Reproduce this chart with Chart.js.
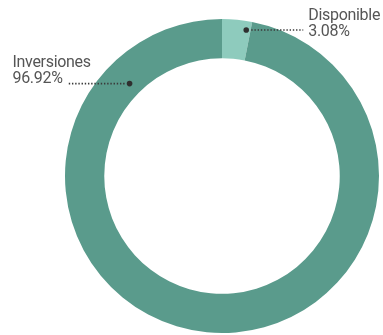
<!DOCTYPE html>
<html>
<head>
<meta charset="utf-8">
<script src="https://cdn.jsdelivr.net/npm/chart.js@4/dist/chart.umd.min.js"></script>
<style>
  html, body { margin: 0; padding: 0; background: #fff; }
  #wrap { width: 383px; height: 335px; }
</style>
</head>
<body>
<div id="wrap"><canvas id="pie"></canvas></div>
<script>
// データ
const labels = ['Disponible', 'Inversiones'];
const values = [3.08, 96.92];
const valueLabels = ['3.08%', '96.92%'];
const colors = ['#8ecbbd', '#5a9b8c'];

// ラベル配置（線の位置・向き）
const labelStyle = [
    { t: 0.85, r: 0.77, side: 1, len: 57, dy: 6 },
    { t: 0.871, r: 0.33, side: -1, len: 62, dy: -1 }
];

// 吹き出しラベル（点線 + 点 + テキスト）
const calloutPlugin = {
    id: 'callout',
    afterDatasetsDraw(chart) {
        const ctx = chart.ctx;
        const meta = chart.getDatasetMeta(0);
        meta.data.forEach((arc, i) => {
            const s = labelStyle[i];
            const p = arc.getProps(['x', 'y', 'startAngle', 'endAngle', 'innerRadius', 'outerRadius'], true);
            const a = p.startAngle + (p.endAngle - p.startAngle) * s.t;
            const r = p.innerRadius + (p.outerRadius - p.innerRadius) * s.r;
            const dx = p.x + Math.cos(a) * r;
            const dy = p.y + Math.sin(a) * r;
            const ex = dx + s.side * s.len;

            ctx.save();
            // 点線
            ctx.strokeStyle = '#3a3a3a';
            ctx.lineWidth = 1.6;
            ctx.setLineDash([1.4, 1.8]);
            ctx.beginPath();
            ctx.moveTo(dx + s.side * 5, dy);
            ctx.lineTo(ex, dy);
            ctx.stroke();
            ctx.setLineDash([]);
            // 点
            ctx.fillStyle = '#2f2f2f';
            ctx.beginPath();
            ctx.arc(dx, dy, 2.8, 0, Math.PI * 2);
            ctx.fill();
            // テキスト
            ctx.font = '16px Roboto';
            ctx.letterSpacing = '-0.3px';
            ctx.fillStyle = '#555555';
            ctx.textBaseline = 'alphabetic';
            ctx.textAlign = 'left';
            let tx;
            if (s.side > 0) {
                tx = ex + 5;
            } else {
                tx = ex - 5 - ctx.measureText(valueLabels[i]).width;
            }
            ctx.fillText(labels[i], tx, dy + s.dy - 16);
            ctx.fillText(valueLabels[i], tx, dy + s.dy);
            ctx.restore();
        });
    }
};

new Chart(document.getElementById('pie'), {
    type: 'doughnut',
    data: {
        labels,
        datasets: [{
            data: values,
            backgroundColor: colors,
            borderWidth: 0,
            hoverOffset: 0
        }]
    },
    options: {
        responsive: true,
        maintainAspectRatio: false,
        animation: false,
        cutout: '75%',
        layout: { padding: { left: 65, right: 4, top: 19, bottom: 2 } },
        plugins: {
            legend: { display: false },
            tooltip: { enabled: false }
        }
    },
    plugins: [calloutPlugin]
});
</script>
</body>
</html>
